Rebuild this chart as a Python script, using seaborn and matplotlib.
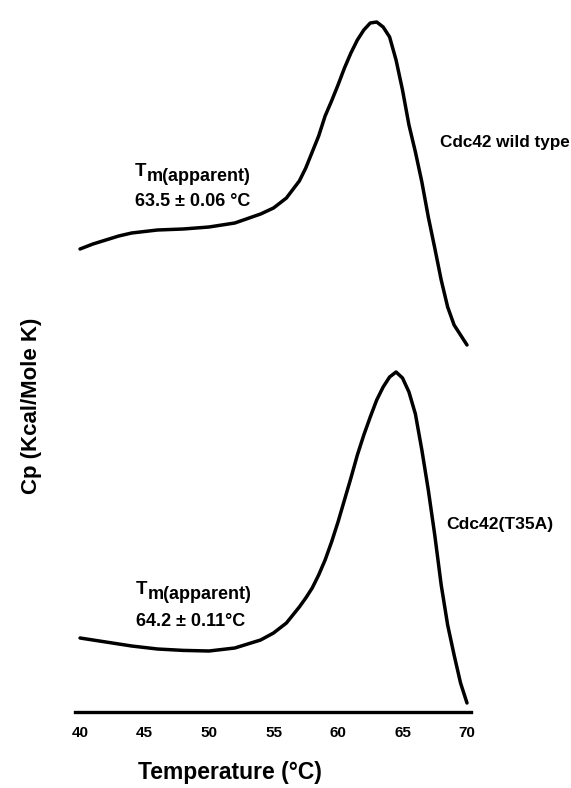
import matplotlib
matplotlib.use("Agg")
import matplotlib.pyplot as plt
import seaborn as sns
import pandas as pd

# ---- data ----
temperature = [40, 41, 42, 43, 44, 46, 48, 50, 52, 54, 55, 56, 57, 57.5, 58, 58.5,
               59, 59.5, 60, 60.5, 61, 61.5, 62, 62.5, 63, 63.5, 64, 64.5, 65, 65.5,
               66, 66.5, 67, 67.5, 68, 68.5, 69, 69.5, 70]
cp_wild_type = [23.15, 23.4, 23.6, 23.8, 23.95, 24.1, 24.15, 24.25, 24.45, 24.9, 25.2,
                25.7, 26.55, 27.2, 28.0, 28.8, 29.8, 30.55, 31.35, 32.2, 32.95, 33.6,
                34.1, 34.45, 34.5, 34.25, 33.75, 32.6, 31.1, 29.35, 28.0, 26.5, 24.75,
                23.2, 21.6, 20.25, 19.35, 18.85, 18.35]
cp_t35a = [3.7, 3.6, 3.5, 3.4, 3.3, 3.15, 3.08, 3.05, 3.2, 3.6, 3.95, 4.45, 5.25, 5.7,
           6.2, 6.85, 7.6, 8.5, 9.5, 10.6, 11.7, 12.85, 13.85, 14.75, 15.6, 16.25,
           16.75, 17.0, 16.7, 16.0, 14.9, 13.1, 11.1, 8.85, 6.35, 4.35, 2.85, 1.45, 0.45]
x_ticks = [40, 45, 50, 55, 60, 65, 70]
series_labels = ["Cdc42 wild type", "Cdc42(T35A)"]
tm_values = ["63.5 \u00b1 0.06 \u00b0C", "64.2 \u00b1 0.11\u00b0C"]

df = pd.concat([
    pd.DataFrame({"T": temperature, "Cp": cp_wild_type, "s": series_labels[0]}),
    pd.DataFrame({"T": temperature, "Cp": cp_t35a, "s": series_labels[1]}),
])

sns.set_style("white")
plt.rcParams["font.family"] = ["Liberation Sans", "DejaVu Sans"]
plt.rcParams["font.weight"] = "bold"
plt.rcParams["text.color"] = "black"
plt.rcParams["axes.labelcolor"] = "black"
plt.rcParams["xtick.color"] = "black"

fig = plt.figure(figsize=(5.71, 7.88), dpi=100)
ax = fig.add_axes([75 / 571, (788 - 712) / 788, 396 / 571, 697 / 788])

sns.lineplot(data=df, x="T", y="Cp", units="s", estimator=None, color="black",
             linewidth=2.5, ax=ax, legend=False, clip_on=False)

ax.set_xlim(39.61, 70.31)
ax.set_ylim(0, 34.85)
for side in ["left", "top", "right"]:
    ax.spines[side].set_visible(False)
ax.spines["bottom"].set_linewidth(2.4)
ax.spines["bottom"].set_color("black")
ax.set_xticks(x_ticks)
ax.set_xticklabels([str(t) for t in x_ticks], fontsize=11, fontweight="bold", color="black")
ax.set_yticks([])
ax.tick_params(axis="x", length=0, pad=10)

ax.set_xlabel("Temperature (\u00b0C)", fontsize=16.5, fontweight="bold", color="black")
ax.xaxis.label.set_va("center")
ax.xaxis.set_label_coords(0.391, -0.0875)
ax.set_ylabel("Cp (Kcal/Mole K)", fontsize=16, fontweight="bold", color="black")
ax.yaxis.label.set_va("center")
ax.yaxis.set_label_coords(-0.1086, 0.44)

# series labels
ax.text(67.9, 28.45, series_labels[0], fontsize=12.3, fontweight="bold", va="center", ha="left")
ax.text(68.37, 9.35, series_labels[1], fontsize=12.6, fontweight="bold", va="center", ha="left")

# Tm annotations
for (tx, ty, vy, val) in [(44.26, 27.05, 25.55, tm_values[0]), (44.34, 6.15, 4.5, tm_values[1])]:
    ax.text(tx, ty, "T", fontsize=13.5, fontweight="bold", va="center", ha="left")
    ax.annotate("m(apparent)", xy=(tx, ty), xytext=(8.3, -3.8), textcoords="offset points",
                fontsize=13, fontweight="bold", va="center", ha="left")
    ax.text(tx, vy, val, fontsize=13, fontweight="bold", va="center", ha="left")

fig.savefig("out.png", dpi=100)
